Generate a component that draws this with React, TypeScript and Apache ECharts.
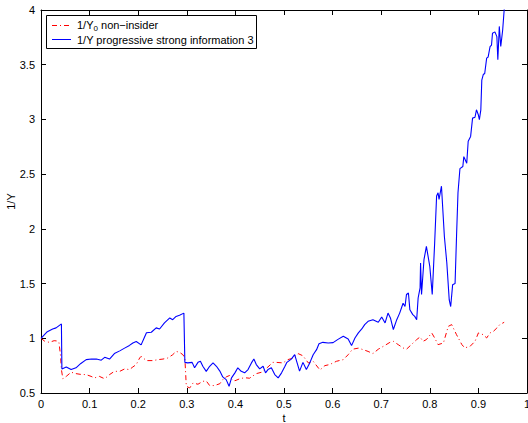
import React, { useEffect, useRef } from "react";
import * as echarts from "echarts";

const xTicks = [0, 0.1, 0.2, 0.3, 0.4, 0.5, 0.6, 0.7, 0.8, 0.9, 1];
const yTicks = [0.5, 1, 1.5, 2, 2.5, 3, 3.5, 4];

const blueName = "1/Y progressive strong information 3";
const redName = "1/Y0 non-insider";

const tBlue = [
  0, 0.013, 0.024, 0.031, 0.04, 0.042, 0.043, 0.052, 0.062, 0.072, 0.082, 0.093, 0.104, 0.114, 0.124, 0.131,
  0.141, 0.151, 0.162, 0.172, 0.182, 0.189, 0.196, 0.206, 0.212, 0.217, 0.227, 0.237, 0.244, 0.254, 0.265,
  0.271, 0.278, 0.285, 0.294, 0.296, 0.302, 0.311, 0.316, 0.323, 0.328, 0.333, 0.34, 0.347, 0.354, 0.361,
  0.368, 0.374, 0.381, 0.387, 0.392, 0.399, 0.405, 0.412, 0.419, 0.426, 0.433, 0.438, 0.443, 0.45, 0.457,
  0.462, 0.467, 0.474, 0.481, 0.488, 0.495, 0.502, 0.506, 0.515, 0.522, 0.527, 0.532, 0.539, 0.546, 0.553,
  0.56, 0.567, 0.572, 0.58, 0.591, 0.601, 0.611, 0.622, 0.632, 0.639, 0.646, 0.653, 0.66, 0.666, 0.673,
  0.683, 0.694, 0.701, 0.708, 0.714, 0.719, 0.725, 0.732, 0.738, 0.745, 0.749, 0.752, 0.756, 0.759, 0.765,
  0.769, 0.773, 0.776, 0.78, 0.781, 0.783, 0.788, 0.793, 0.8, 0.805, 0.81, 0.814, 0.817, 0.819, 0.824,
  0.83, 0.835, 0.84, 0.843, 0.847, 0.852, 0.855, 0.858, 0.862, 0.868, 0.87, 0.876, 0.879, 0.884, 0.888,
  0.893, 0.896, 0.9, 0.902, 0.905, 0.907, 0.91, 0.913, 0.917, 0.92, 0.924, 0.927, 0.929, 0.934, 0.938,
  0.94, 0.943, 0.946, 0.95, 0.953, 0.956,
];
const vBlue = [
  1.0, 1.06, 1.085, 1.095, 1.125, 1.13, 0.72, 0.738, 0.714, 0.73, 0.77, 0.805, 0.81, 0.81, 0.8, 0.826,
  0.81, 0.86, 0.885, 0.91, 0.935, 0.957, 0.97, 0.94, 1.0, 1.05, 1.055, 1.095, 1.085, 1.14, 1.186,
  1.17, 1.2, 1.21, 1.23, 0.78, 0.775, 0.78, 0.73, 0.78, 0.79, 0.744, 0.698, 0.744, 0.775, 0.744,
  0.7, 0.647, 0.622, 0.561, 0.638, 0.684, 0.73, 0.698, 0.684, 0.714, 0.775, 0.81, 0.76, 0.72, 0.744,
  0.684, 0.714, 0.73, 0.668, 0.638, 0.684, 0.744, 0.78, 0.81, 0.85, 0.775, 0.7, 0.78, 0.714, 0.775,
  0.85, 0.896, 0.95, 0.963, 0.957, 0.96, 0.99, 1.018, 0.994, 0.933, 1.003, 1.049, 1.085, 1.125, 1.155,
  1.17, 1.146, 1.195, 1.14, 1.23, 1.186, 1.08, 1.17, 1.23, 1.32, 1.29, 1.4, 1.414, 1.26, 1.216,
  1.2, 1.17, 1.368, 1.46, 1.688, 1.4, 1.718, 1.84, 1.657, 1.4, 1.87, 2.3, 2.33, 2.27, 2.39,
  1.93, 1.69, 1.35, 1.29, 1.49, 1.5, 1.93, 2.33, 2.55, 2.57, 2.66, 2.6, 2.8, 2.845, 3.012,
  3.02, 3.088, 3.04, 2.997, 3.088, 3.36, 3.41, 3.42, 3.56, 3.57, 3.666, 3.68, 3.787, 3.8, 3.757,
  3.545, 3.85, 3.666, 3.82, 4.0, 4.15,
];

const tRed = [
  0, 0.007, 0.017, 0.027, 0.034, 0.037, 0.04, 0.042, 0.045, 0.052, 0.062, 0.072, 0.082, 0.093, 0.103, 0.11,
  0.12, 0.131, 0.141, 0.151, 0.162, 0.172, 0.182, 0.189, 0.196, 0.203, 0.206, 0.217, 0.23, 0.241, 0.251,
  0.261, 0.271, 0.278, 0.285, 0.292, 0.296, 0.299, 0.306, 0.313, 0.323, 0.333, 0.34, 0.347, 0.357, 0.368,
  0.374, 0.381, 0.388, 0.393, 0.399, 0.409, 0.419, 0.429, 0.443, 0.454, 0.467, 0.477, 0.484, 0.498, 0.508,
  0.519, 0.529, 0.539, 0.55, 0.56, 0.574, 0.584, 0.594, 0.608, 0.622, 0.632, 0.641, 0.653, 0.663, 0.673,
  0.683, 0.694, 0.707, 0.718, 0.725, 0.735, 0.745, 0.752, 0.762, 0.773, 0.78, 0.786, 0.793, 0.804, 0.81,
  0.817, 0.828, 0.838, 0.845, 0.855, 0.866, 0.872, 0.883, 0.893, 0.9, 0.91, 0.917, 0.924, 0.931, 0.938,
  0.944, 0.953,
];
const vRed = [
  1.0, 0.975, 0.963, 0.978, 0.975, 0.96, 0.85, 0.714, 0.63, 0.652, 0.69, 0.677, 0.67, 0.668, 0.652, 0.638,
  0.652, 0.63, 0.668, 0.698, 0.698, 0.72, 0.714, 0.738, 0.76, 0.82, 0.835, 0.796, 0.796, 0.805, 0.81,
  0.82, 0.85, 0.88, 0.872, 0.85, 0.82, 0.561, 0.546, 0.592, 0.58, 0.607, 0.61, 0.568, 0.568, 0.585,
  0.622, 0.647, 0.66, 0.622, 0.612, 0.63, 0.64, 0.635, 0.677, 0.69, 0.738, 0.78, 0.78, 0.775, 0.805,
  0.82, 0.86, 0.84, 0.775, 0.79, 0.71, 0.75, 0.76, 0.79, 0.805, 0.85, 0.9, 0.91, 0.896, 0.88,
  0.86, 0.9, 0.933, 0.963, 0.972, 0.942, 0.912, 0.9, 0.942, 0.988, 1.012, 0.972, 0.988, 1.049, 1.003,
  0.942, 0.957, 1.109, 1.125, 1.033, 0.942, 0.912, 0.927, 0.972, 1.049, 1.033, 1.003, 1.049, 1.064, 1.094,
  1.125, 1.146,
];

const FONT = "'Liberation Sans', Arial, Helvetica, sans-serif";
const RED_DASH = [5, 3, 1, 3];

export default function App() {
  const ref = useRef<HTMLDivElement>(null);
  useEffect(() => {
    if (!ref.current) return;
    const chart = echarts.init(ref.current, undefined, { renderer: "svg" });
    const blueData = tBlue.map((t, i) => [t, vBlue[i]]);
    const redData = tRed.map((t, i) => [t, vRed[i]]);
    const xMin = xTicks[0];
    const xMax = xTicks[xTicks.length - 1];
    const yMin = yTicks[0];
    const yMax = yTicks[yTicks.length - 1];
    const axisCommon = {
      axisLine: { show: true, onZero: false, lineStyle: { color: "#000", width: 1 } },
      axisTick: { show: true, inside: true, length: 5, lineStyle: { color: "#000" } },
      splitLine: { show: false },
    };
    chart.setOption({
      animation: false,
      backgroundColor: "#fff",
      textStyle: { fontFamily: FONT },
      grid: { left: 41, right: 1, top: 10, bottom: 30, containLabel: false, outerBoundsMode: "none" },
      graphic: [
        {
          type: "rect",
          z: 100,
          shape: { x: 46.5, y: 15.5, width: 210, height: 33 },
          style: { fill: "#fff", stroke: "#000", lineWidth: 1 },
        },
        {
          type: "line",
          z: 101,
          shape: { x1: 52, y1: 25.5, x2: 69, y2: 25.5 },
          style: { stroke: "#ff0000", lineWidth: 1, lineDash: RED_DASH },
        },
        {
          type: "line",
          z: 101,
          shape: { x1: 52, y1: 39.5, x2: 71, y2: 39.5 },
          style: { stroke: "#0000ff", lineWidth: 1 },
        },
        {
          type: "text",
          z: 101,
          x: 77,
          y: 25,
          style: {
            text: "{a|1/Y}{s|0}{a| non−insider}",
            verticalAlign: "middle",
            align: "left",
            rich: {
              a: { fontSize: 11, lineHeight: 13, fill: "#000", fontFamily: FONT },
              s: { fontSize: 8, lineHeight: 9, padding: [6, 0, 0, 0], fill: "#000", fontFamily: FONT },
            },
          },
        },
        {
          type: "text",
          z: 101,
          x: 77,
          y: 40,
          style: {
            text: blueName,
            verticalAlign: "middle",
            align: "left",
            fontSize: 11,
            fill: "#000",
            fontFamily: FONT,
          },
        },
      ],
      xAxis: [
        {
          type: "value",
          min: xMin,
          max: xMax,
          interval: 0.1,
          position: "bottom",
          name: "t",
          nameLocation: "middle",
          nameGap: 19,
          nameMoveOverlap: false,
          nameTextStyle: { fontSize: 11, color: "#000", fontFamily: FONT },
          ...axisCommon,
          axisLabel: { show: true, fontSize: 11, color: "#000", margin: 5, fontFamily: FONT },
        },
        {
          type: "value",
          min: xMin,
          max: xMax,
          interval: 0.1,
          position: "top",
          ...axisCommon,
          axisLabel: { show: false },
        },
      ],
      yAxis: [
        {
          type: "value",
          min: yMin,
          max: yMax,
          interval: 0.5,
          position: "left",
          name: "1/Y",
          nameLocation: "middle",
          nameGap: 25,
          nameRotate: 90,
          nameMoveOverlap: false,
          nameTextStyle: { fontSize: 11, color: "#000", fontFamily: FONT },
          ...axisCommon,
          axisLabel: { show: true, fontSize: 11, color: "#000", margin: 6, fontFamily: FONT },
        },
        {
          type: "value",
          min: yMin,
          max: yMax,
          interval: 0.5,
          position: "right",
          ...axisCommon,
          axisLabel: { show: false },
        },
      ],
      series: [
        {
          name: redName,
          type: "line",
          data: redData,
          showSymbol: false,
          symbol: "none",
          clip: true,
          lineStyle: { color: "#ff0000", width: 1, type: RED_DASH },
          z: 2,
        },
        {
          name: blueName,
          type: "line",
          data: blueData,
          showSymbol: false,
          symbol: "none",
          clip: true,
          lineStyle: { color: "#0000ff", width: 1.1 },
          z: 3,
        },
      ],
    });
    return () => chart.dispose();
  }, []);
  return (
    <div
      ref={ref}
      style={{ position: "fixed", left: 0, top: 0, width: 528, height: 423, background: "#fff" }}
    />
  );
}
